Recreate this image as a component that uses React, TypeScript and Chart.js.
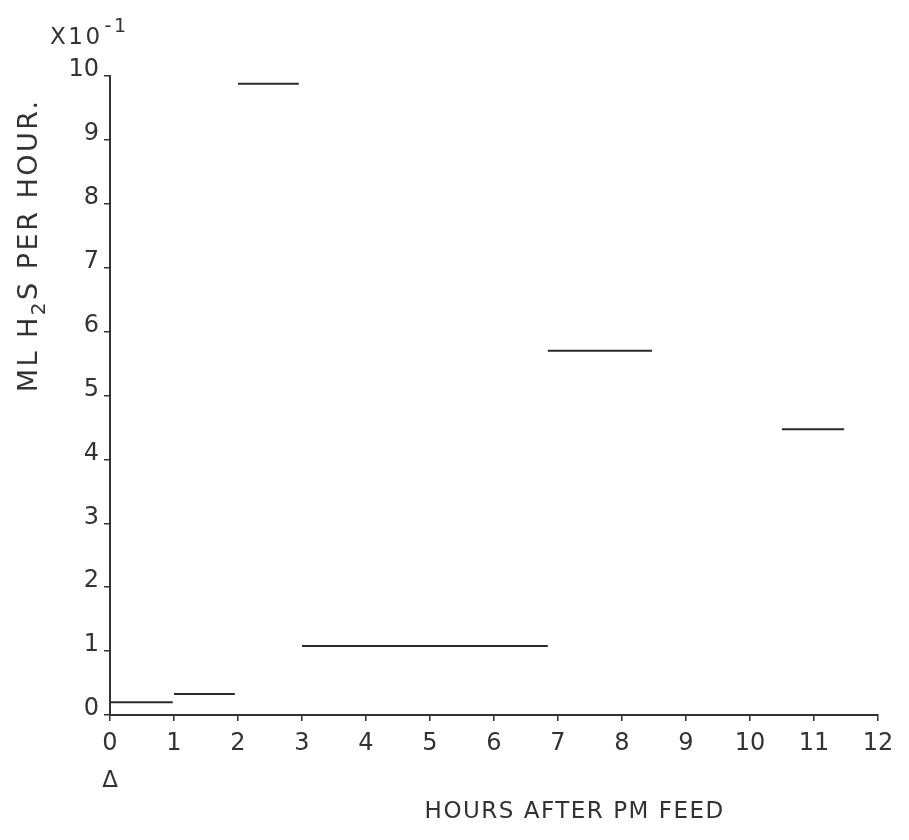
import React, { useEffect, useRef } from "react";
import { Chart, registerables } from "chart.js";

Chart.register(...registerables);

// Data: constant-rate intervals (hours after PM feed), rate in ML H2S per hour (x10^-1)
const intervalStart = [0, 1, 2, 3, 6.84, 10.5];
const intervalEnd = [0.98, 1.95, 2.95, 6.84, 8.47, 11.47];
const rateValues = [0.2, 0.33, 9.88, 1.08, 5.7, 4.47];

const xTickValues = [0, 1, 2, 3, 4, 5, 6, 7, 8, 9, 10, 11, 12];
const yTickValues = [0, 1, 2, 3, 4, 5, 6, 7, 8, 9, 10];

const xTitle = "HOURS AFTER PM FEED";
const yTitleParts = ["ML H", "2", "S PER HOUR."];
const scaleNote = "X10";
const scaleExp = "-1";
const markerLabel = "Δ";

const INK = "#333333";
const FONT = "DejaVu Sans";

const textPlugin = {
  id: "plotterText",
  afterDraw(chart: any) {
    const ctx = chart.ctx;
    const area = chart.chartArea;
    const xs = chart.scales.x;
    ctx.save();
    ctx.fillStyle = INK;

    // X10^-1 multiplier note
    ctx.font = `23px "${FONT}"`;
    (ctx as any).letterSpacing = "2.5px";
    ctx.textAlign = "left";
    ctx.textBaseline = "alphabetic";
    ctx.fillText(scaleNote, 50, 44);
    const w = ctx.measureText(scaleNote).width;
    ctx.font = `19px "${FONT}"`;
    ctx.fillText(scaleExp, 50 + w + 2, 32);

    // x-axis title
    ctx.font = `23px "${FONT}"`;
    (ctx as any).letterSpacing = "1.5px";
    ctx.textAlign = "center";
    ctx.textBaseline = "middle";
    ctx.fillText(xTitle, area.left + (area.right - area.left) * 0.605, 812);

    // triangle marker under x = 0
    (ctx as any).letterSpacing = "0px";
    ctx.font = `23px "${FONT}"`;
    ctx.fillText(markerLabel, xs.getPixelForValue(0), 781);

    // y-axis title with subscript, rotated
    const big = `27px "${FONT}"`;
    const small = `20px "${FONT}"`;
    (ctx as any).letterSpacing = "2.5px";
    ctx.font = big;
    const w0 = ctx.measureText(yTitleParts[0]).width;
    const w2 = ctx.measureText(yTitleParts[2]).width;
    ctx.font = small;
    const w1 = ctx.measureText(yTitleParts[1]).width;
    const total = w0 + w1 + w2;
    const cy = area.top + (area.bottom - area.top) * 0.265;
    ctx.translate(37, cy);
    ctx.rotate(-Math.PI / 2);
    ctx.textAlign = "left";
    ctx.textBaseline = "alphabetic";
    let tx = -total / 2;
    ctx.font = big;
    ctx.fillText(yTitleParts[0], tx, 0);
    tx += w0;
    ctx.font = small;
    ctx.fillText(yTitleParts[1], tx, 8);
    tx += w1;
    ctx.font = big;
    ctx.fillText(yTitleParts[2], tx, 0);
    ctx.restore();
  },
};

export default function App() {
  const canvasRef = useRef<HTMLCanvasElement | null>(null);

  useEffect(() => {
    if (!canvasRef.current) return;
    const datasets = rateValues.map((v, i) => ({
      label: `interval ${i + 1}`,
      data: [
        { x: intervalStart[i], y: v },
        { x: intervalEnd[i], y: v },
      ],
      borderColor: "#2a2a2a",
      borderWidth: 2,
      pointRadius: 0,
      fill: false,
      tension: 0,
    }));

    const chart = new Chart(canvasRef.current, {
      type: "line",
      data: { datasets },
      plugins: [textPlugin],
      options: {
        animation: false,
        responsive: true,
        maintainAspectRatio: false,
        layout: { padding: { top: 76, right: 31, left: 0, bottom: 0 } },
        plugins: {
          legend: { display: false },
          tooltip: { enabled: false },
          title: { display: false },
        },
        scales: {
          x: {
            type: "linear",
            min: 0,
            max: 12,
            afterBuildTicks: (scale: any) => {
              scale.ticks = xTickValues.map((v) => ({ value: v }));
            },
            afterFit: (scale: any) => {
              scale.height = 125;
            },
            border: { display: true, color: INK, width: 2 },
            grid: {
              display: true,
              drawOnChartArea: false,
              drawTicks: true,
              tickLength: 6,
              color: INK,
              lineWidth: 1.5,
            },
            ticks: {
              color: INK,
              font: { family: FONT, size: 24 },
              padding: 8,
              maxRotation: 0,
              autoSkip: false,
              callback: (v: any) => String(v),
            },
          },
          y: {
            type: "linear",
            min: 0,
            max: 10,
            afterBuildTicks: (scale: any) => {
              scale.ticks = yTickValues.map((v) => ({ value: v }));
            },
            afterFit: (scale: any) => {
              scale.width = 110;
            },
            border: { display: true, color: INK, width: 2 },
            grid: {
              display: true,
              drawOnChartArea: false,
              drawTicks: true,
              tickLength: 6,
              color: INK,
              lineWidth: 1.5,
            },
            ticks: {
              color: INK,
              font: { family: FONT, size: 24 },
              padding: 5,
              labelOffset: -6,
              autoSkip: false,
              callback: (v: any) => String(v),
            },
          },
        },
      },
    });
    return () => chart.destroy();
  }, []);

  return (
    <div
      style={{
        position: "absolute",
        left: 0,
        top: 0,
        width: 909,
        height: 840,
        background: "#ffffff",
      }}
    >
      <canvas ref={canvasRef} />
    </div>
  );
}
